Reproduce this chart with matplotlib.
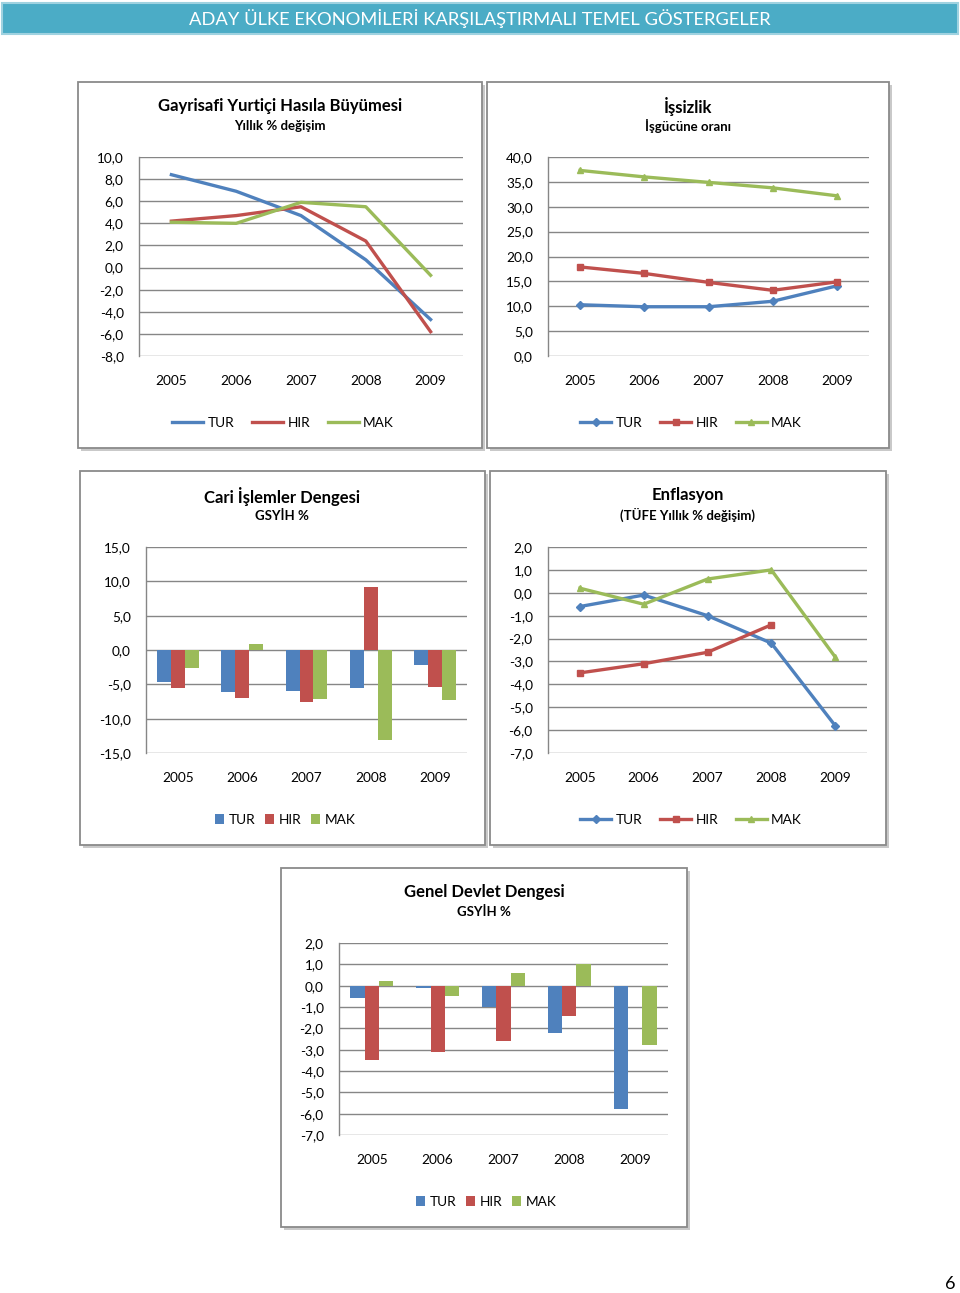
import matplotlib
matplotlib.use("Agg")
import matplotlib.pyplot as plt
import numpy as np
from matplotlib.patches import Rectangle
from matplotlib.ticker import FuncFormatter, FixedLocator

plt.rcParams['font.family'] = ['Lato', 'DejaVu Sans']

W, H = 960, 1293

years = ['2005', '2006', '2007', '2008', '2009']
series_names = ['TUR', 'HIR', 'MAK']
colors = ['#4F81BD', '#C0504D', '#9BBB59']

gdp_tur = [8.4, 6.9, 4.7, 0.7, -4.7]
gdp_hir = [4.2, 4.7, 5.5, 2.4, -5.8]
gdp_mak = [4.1, 4.0, 5.9, 5.5, -0.7]

unemp_tur = [10.3, 9.9, 9.9, 11.0, 14.1]
unemp_hir = [17.9, 16.6, 14.8, 13.2, 14.9]
unemp_mak = [37.3, 36.0, 34.9, 33.8, 32.2]

ca_tur = [-4.6, -6.1, -5.9, -5.6, -2.2]
ca_hir = [-5.6, -7.0, -7.6, 9.2, -5.4]
ca_mak = [-2.6, 0.9, -7.2, -13.1, -7.3]

inf_tur = [-0.6, -0.1, -1.0, -2.2, -5.8]
inf_hir = [-3.5, -3.1, -2.6, -1.4, np.nan]
inf_mak = [0.2, -0.5, 0.6, 1.0, -2.8]

gov_tur = [-0.6, -0.1, -1.0, -2.2, -5.8]
gov_hir = [-3.5, -3.1, -2.6, -1.4, np.nan]
gov_mak = [0.2, -0.5, 0.6, 1.0, -2.8]

header_text = "ADAY ÜLKE EKONOMİLERİ KARŞILAŞTIRMALI TEMEL GÖSTERGELER"

fig = plt.figure(figsize=(W / 100, H / 100), dpi=100)
fig.patch.set_facecolor('white')


def fx(x):
    return x / W


def fy(y):
    return 1 - y / H


def add_box(x0, y0, x1, y1):
    sh = Rectangle((fx(x0 + 3), fy(y1 + 3)), (x1 - x0) / W, (y1 - y0) / H,
                   transform=fig.transFigure, facecolor='#c9c9c9', edgecolor='none', zorder=-3)
    fig.patches.append(sh)
    r = Rectangle((fx(x0), fy(y1)), (x1 - x0) / W, (y1 - y0) / H,
                  transform=fig.transFigure, facecolor='white', edgecolor='#8a8a8a', lw=1.3, zorder=-2)
    fig.patches.append(r)


def add_axes_px(x0, y0, x1, y1):
    ax = fig.add_axes([fx(x0), fy(y1), (x1 - x0) / W, (y1 - y0) / H])
    ax.set_facecolor('none')
    ax.set_zorder(2)
    return ax


fmt = FuncFormatter(lambda v, p: f"{v:.1f}".replace('.', ','))


def style_axes(ax, ymin, ymax, step):
    ticks = np.arange(ymin, ymax + step / 2, step)
    ax.set_ylim(ymin, ymax)
    ax.yaxis.set_major_locator(FixedLocator(ticks))
    ax.yaxis.set_major_formatter(fmt)
    ax.set_xlim(-0.5, 4.5)
    ax.set_xticks(range(5))
    ax.set_xticklabels(years)
    for s in ['top', 'right', 'bottom']:
        ax.spines[s].set_visible(False)
    ax.spines['left'].set_color('#868686')
    ax.spines['left'].set_linewidth(1.0)
    ax.grid(axis='y', color='#868686', lw=1.0)
    ax.set_axisbelow(True)
    ax.tick_params(axis='both', length=0, labelsize=9.8, colors='black')
    ax.tick_params(axis='y', pad=11)
    ax.tick_params(axis='x', pad=14)


def add_titles(xc, y_title, y_sub, title, sub):
    fig.text(fx(xc), fy(y_title), title, ha='center', va='center', fontsize=12, fontweight='bold')
    fig.text(fx(xc), fy(y_sub), sub, ha='center', va='center', fontsize=9.5, fontweight='bold')


def line_chart(ax, data, markers):
    handles = []
    x = np.arange(5)
    for vals, c, n, m in zip(data, colors, series_names, markers):
        h, = ax.plot(x, vals, color=c, lw=2.4, marker=m, ms=4.2 if m else 0, label=n,
                     markeredgecolor=c, markerfacecolor=c)
        handles.append(h)
    return handles


def bar_chart(ax, data):
    handles = []
    x = np.arange(5)
    w = 0.218
    for i, (vals, c, n) in enumerate(zip(data, colors, series_names)):
        h = ax.bar(x + (i - 1) * w, np.nan_to_num(vals), width=w, color=c, label=n, zorder=3)
        handles.append(h)
    return handles


def add_legend(handles, xc, yc, is_bar=False):
    if is_bar:
        fig.legend(handles=handles, loc='center', bbox_to_anchor=(fx(xc), fy(yc)), ncol=3,
                   frameon=False, fontsize=9.8, handlelength=0.7, handleheight=0.7,
                   handletextpad=0.3, columnspacing=0.7)
    else:
        fig.legend(handles=handles, loc='center', bbox_to_anchor=(fx(xc), fy(yc)), ncol=3,
                   frameon=False, fontsize=9.8, handlelength=2.3,
                   handletextpad=0.3, columnspacing=1.3)


# Header
fig.patches.append(Rectangle((fx(2), fy(34)), 956 / W, 31 / H, transform=fig.transFigure,
                             facecolor='#4BACC6', edgecolor='#9fd2e0', lw=1.5, zorder=-2))
fig.text(fx(480), fy(18.5), header_text, ha='center', va='center', color='white', fontsize=13.2)

# Boxes
add_box(78, 82, 482, 448)
add_box(487, 82, 889, 448)
add_box(80, 471, 485, 845)
add_box(490, 471, 886, 845)
add_box(281, 868, 687, 1227)

# Chart 1: GDP
ax1 = add_axes_px(139, 157, 463, 356)
style_axes(ax1, -8, 10, 2)
h1 = line_chart(ax1, [gdp_tur, gdp_hir, gdp_mak], [None, None, None])
add_titles(280, 106, 126, "Gayrisafi Yurtiçi Hasıla Büyümesi", "Yıllık % değişim")
add_legend(h1, 283, 423)

# Chart 2: Unemployment
ax2 = add_axes_px(548, 157, 869, 356)
style_axes(ax2, 0, 40, 5)
h2 = line_chart(ax2, [unemp_tur, unemp_hir, unemp_mak], ['D', 's', '^'])
add_titles(688, 106, 126, "İşsizlik", "İşgücüne oranı")
add_legend(h2, 691, 423)

# Chart 3: Current account
ax3 = add_axes_px(146, 547, 467, 753)
style_axes(ax3, -15, 15, 5)
h3 = bar_chart(ax3, [ca_tur, ca_hir, ca_mak])
add_titles(282, 496, 516, "Cari İşlemler Dengesi", "GSYİH %")
add_legend(h3, 285, 820, is_bar=True)

# Chart 4: Inflation
ax4 = add_axes_px(548, 547, 867, 753)
style_axes(ax4, -7, 2, 1)
h4 = line_chart(ax4, [inf_tur, inf_hir, inf_mak], ['D', 's', '^'])
add_titles(688, 495, 515, "Enflasyon", "(TÜFE Yıllık % değişim)")
add_legend(h4, 691, 820)

# Chart 5: General government balance
ax5 = add_axes_px(339, 943, 668, 1135)
style_axes(ax5, -7, 2, 1)
h5 = bar_chart(ax5, [gov_tur, gov_hir, gov_mak])
add_titles(484, 892, 912, "Genel Devlet Dengesi", "GSYİH %")
add_legend(h5, 486, 1202, is_bar=True)

# Page number
fig.text(fx(950), fy(1284), "6", ha='center', va='center', fontsize=13)

fig.savefig('out.png', dpi=100)
